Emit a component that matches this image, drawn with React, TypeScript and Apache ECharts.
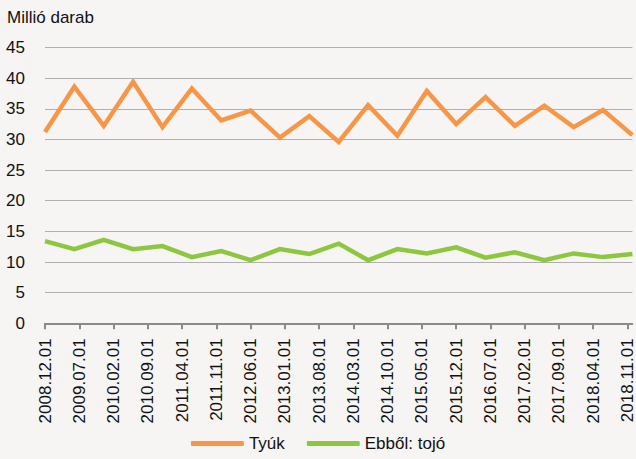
import React, { useEffect, useRef } from "react";
import * as echarts from "echarts";

// Semiannual observation dates
const periods = [
  "2008.12.01", "2009.06.01", "2009.12.01", "2010.06.01", "2010.12.01",
  "2011.06.01", "2011.12.01", "2012.06.01", "2012.12.01", "2013.06.01",
  "2013.12.01", "2014.06.01", "2014.12.01", "2015.06.01", "2015.12.01",
  "2016.06.01", "2016.12.01", "2017.06.01", "2017.12.01", "2018.06.01",
  "2018.12.01",
];
const tyuk = [
  31.2, 38.6, 32.2, 39.4, 32.0, 38.3, 33.1, 34.7, 30.3, 33.8,
  29.6, 35.6, 30.6, 37.9, 32.5, 36.9, 32.2, 35.5, 32.0, 34.8, 30.7,
];
const tojo = [
  13.4, 12.1, 13.6, 12.1, 12.6, 10.8, 11.8, 10.3, 12.1, 11.3,
  13.0, 10.3, 12.1, 11.4, 12.4, 10.7, 11.6, 10.3, 11.4, 10.8, 11.3,
];
const yTicks = [0, 5, 10, 15, 20, 25, 30, 35, 40, 45];
const seriesNames = ["Tyúk", "Ebből: tojó"];
const colors = ["#f79646", "#8dc63f"];

// Monthly category axis from first to last period
function monthlyCategories(first: string, last: string): string[] {
  const [fy, fm] = first.split(".").map(Number);
  const [ly, lm] = last.split(".").map(Number);
  const out: string[] = [];
  let y = fy, m = fm;
  while (y < ly || (y === ly && m <= lm)) {
    out.push(`${y}.${String(m).padStart(2, "0")}.01`);
    m++;
    if (m > 12) { m = 1; y++; }
  }
  return out;
}
const categories = monthlyCategories(periods[0], periods[periods.length - 1]);

function toMonthly(values: number[]): (number | null)[] {
  const arr: (number | null)[] = categories.map(() => null);
  periods.forEach((p, i) => {
    const idx = categories.indexOf(p);
    if (idx >= 0) arr[idx] = values[i];
  });
  return arr;
}

const FONT = "'Liberation Sans', Arial, sans-serif";

export default function App() {
  const ref = useRef<HTMLDivElement>(null);
  useEffect(() => {
    if (!ref.current) return;
    const chart = echarts.init(ref.current, undefined, { renderer: "svg" });
    chart.setOption({
      animation: false,
      backgroundColor: "#f6f5f3",
      textStyle: { fontFamily: FONT },
      graphic: [
        {
          type: "text",
          left: 7,
          top: 9,
          style: { text: "Millió darab", font: `17px ${FONT}`, fill: "#111" },
        },
      ],
      legend: {
        data: seriesNames,
        bottom: 2,
        left: "center",
        icon: "roundRect",
        itemWidth: 53,
        itemHeight: 5,
        itemGap: 22,
        textStyle: { fontSize: 17, color: "#111", fontFamily: FONT, padding: [0, 0, 0, 0] },
      },
      grid: { left: 45, right: 3, top: 47.5, bottom: 135.7, containLabel: false },
      xAxis: {
        type: "category",
        data: categories,
        boundaryGap: false,
        axisLine: { lineStyle: { color: "#8a8a8a", width: 2 } },
        axisTick: { interval: 6, length: 6, lineStyle: { color: "#8a8a8a", width: 2 } },
        axisLabel: {
          interval: 6,
          rotate: 90,
          margin: 15,
          fontSize: 17,
          color: "#111",
          fontFamily: FONT,
        },
        splitLine: { show: false },
      },
      yAxis: {
        type: "value",
        min: yTicks[0],
        max: yTicks[yTicks.length - 1],
        interval: 5,
        axisLine: { show: false },
        axisTick: { show: false },
        axisLabel: { margin: 20, fontSize: 17, color: "#111", fontFamily: FONT },
        splitLine: { lineStyle: { color: "#b0b0b0", width: 1.2 } },
      },
      series: [
        {
          name: seriesNames[0],
          type: "line",
          data: toMonthly(tyuk),
          connectNulls: true,
          showSymbol: false,
          symbol: "none",
          color: colors[0],
          lineStyle: { color: colors[0], width: 4.5, join: "miter" },
        },
        {
          name: seriesNames[1],
          type: "line",
          data: toMonthly(tojo),
          connectNulls: true,
          showSymbol: false,
          symbol: "none",
          color: colors[1],
          lineStyle: { color: colors[1], width: 4.5, join: "miter" },
        },
      ],
    });
    return () => chart.dispose();
  }, []);
  return (
    <div
      ref={ref}
      style={{ position: "fixed", left: 0, top: 0, width: 636, height: 459 }}
    />
  );
}
